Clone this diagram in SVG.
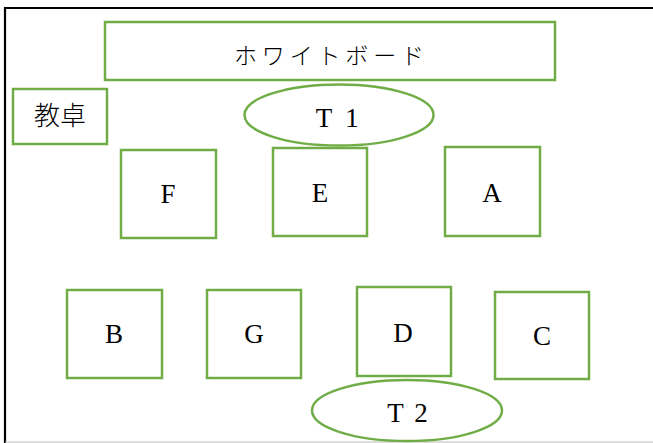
<svg xmlns="http://www.w3.org/2000/svg" width="653" height="443" viewBox="0 0 653 443">
<style>
.box{fill:#fff;stroke:#70AD47;stroke-width:2.5}
.lat{font-family:"Liberation Serif","Noto Sans CJK JP",serif;font-size:27px;fill:#000;text-anchor:middle}
.jp{font-family:"Noto Sans CJK JP","Liberation Serif",serif;fill:#000;text-anchor:middle}
</style>
<rect width="653" height="443" fill="#fff"/>
<g id="frame">
<path d="M5,443 V8 H653" fill="none" stroke="#000" stroke-width="2.2"/>
<line x1="5" y1="442" x2="653" y2="442" stroke="#bdbdbd" stroke-width="1.2"/>
</g>
<g id="whiteboard"><rect class="box" x="105" y="22" width="450" height="58"/><text class="jp" x="329" y="64" font-size="23" font-weight="300" textLength="190" lengthAdjust="spacing">ホワイトボード</text></g>
<g id="desk"><rect class="box" x="13" y="89" width="94" height="55"/><text class="jp" x="60" y="125" font-size="26" font-weight="300">教卓</text></g>
<g id="T1"><ellipse class="box" cx="339" cy="115" rx="94.5" ry="30.5"/><text class="lat" y="127"><tspan x="324">T</tspan><tspan x="352">1</tspan></text></g>
<g id="F"><rect class="box" x="121" y="150" width="95" height="88"/><text class="lat" x="168" y="203">F</text></g>
<g id="E"><rect class="box" x="273" y="148" width="94" height="88"/><text class="lat" x="320" y="202">E</text></g>
<g id="A"><rect class="box" x="445" y="147" width="95" height="89"/><text class="lat" x="492" y="202">A</text></g>
<g id="B"><rect class="box" x="67" y="290" width="95" height="88"/><text class="lat" x="114" y="343">B</text></g>
<g id="G"><rect class="box" x="207" y="290" width="94" height="88"/><text class="lat" x="254" y="343">G</text></g>
<g id="D"><rect class="box" x="357" y="287" width="94" height="89"/><text class="lat" x="403" y="342">D</text></g>
<g id="C"><rect class="box" x="495" y="292" width="94" height="87"/><text class="lat" x="542" y="345">C</text></g>
<g id="T2"><ellipse class="box" cx="407" cy="410.5" rx="95" ry="30.5"/><text class="lat" y="422"><tspan x="395.5">T</tspan><tspan x="421">2</tspan></text></g>
<g id="connectors"></g>
</svg>
